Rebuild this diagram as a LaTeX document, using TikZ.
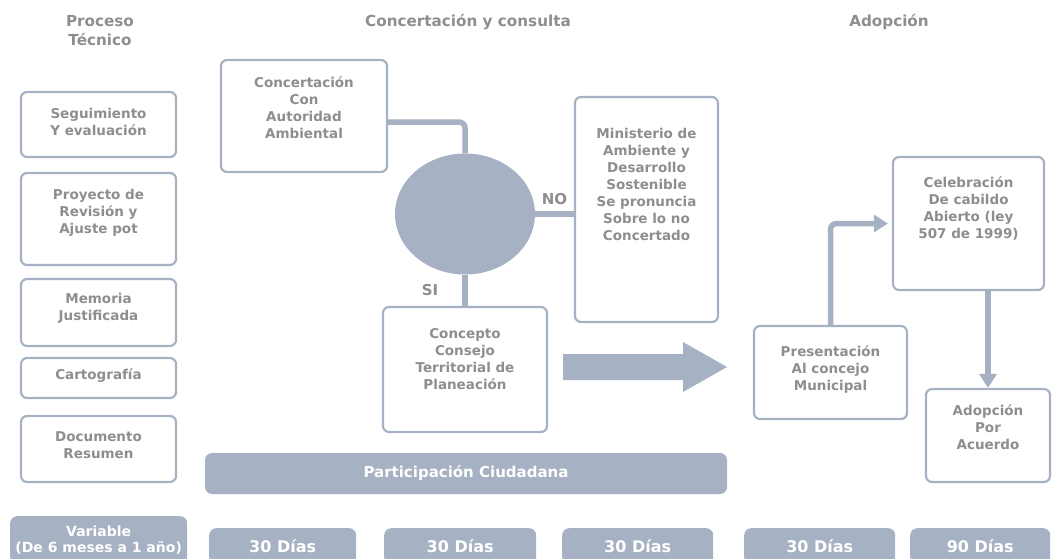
\documentclass[tikz,border=0pt]{standalone}
\usepackage{fontspec}
\setmainfont{DejaVu Sans}
\usepackage{xcolor}
\usepackage{tikz}
\usetikzlibrary{shapes,arrows.meta,positioning}
\definecolor{boxline}{RGB}{166,177,196}
\definecolor{txtgray}{RGB}{142,142,142}
\tikzstyle{box} = [rectangle, draw=boxline, line width=2.2pt, rounded corners=6pt, fill=white, inner sep=0pt]
\tikzstyle{boxtext} = [text=txtgray, font=\bfseries\fontsize{13.5}{17}\selectfont, align=center, inner sep=0pt]
\tikzstyle{header} = [boxtext, font=\bfseries\fontsize{15.2}{19}\selectfont]
\tikzstyle{bar} = [rectangle, fill=boxline, rounded corners=7pt, text=white, align=center,
    font=\bfseries\fontsize{15}{16}\selectfont]
\tikzstyle{daybar} = [bar, anchor=north west, minimum height=36pt, font=\bfseries\fontsize{16}{17}\selectfont]
\tikzstyle{decision} = [ellipse, fill=boxline, minimum width=140pt, minimum height=121pt]
\tikzstyle{line} = [draw=boxline, line width=5.5pt, rounded corners=6pt]
\tikzstyle{arrowline} = [line, -{Triangle[length=14pt,width=17pt]}]
\tikzstyle{tag} = [text=txtgray, font=\bfseries\fontsize{15}{16}\selectfont, inner sep=0pt]

\begin{document}
\begin{tikzpicture}[x=1pt, y=-1pt]
    \path [use as bounding box, clip] (0,0) rectangle (1056,558);
    % Place nodes
    \node [header] (hTec) at (100,31) {Proceso\\Técnico};
    \node [header] (hConc) at (468,22) {Concertación y consulta};
    \node [header] (hAdop) at (889,22) {Adopción};

    \node [box, minimum width=155pt, minimum height=65pt] (segBox) at (98.5,124.5) {};
    \node [boxtext] (segTxt) at ([yshift=3pt]segBox) {Seguimiento\\Y evaluación};
    \node [box, minimum width=155pt, minimum height=92pt] (proyBox) at (98.5,219) {};
    \node [boxtext] (proyTxt) at ([yshift=6pt]proyBox) {Proyecto de\\Revisión y\\Ajuste pot};
    \node [box, minimum width=155pt, minimum height=67pt] (memBox) at (98.5,312.5) {};
    \node [boxtext] (memTxt) at ([yshift=4pt]memBox) {Memoria\\Justificada};
    \node [box, minimum width=155pt, minimum height=40pt] (cartoBox) at (98.5,378) {};
    \node [boxtext] (cartoTxt) at ([yshift=2pt]cartoBox) {Cartografía};
    \node [box, minimum width=155pt, minimum height=66pt] (docBox) at (98.5,449) {};
    \node [boxtext] (docTxt) at ([yshift=4pt]docBox) {Documento\\Resumen};

    \node [box, minimum width=166pt, minimum height=112pt] (concBox) at (304,116) {};
    \node [boxtext] (concTxt) at ([yshift=8pt]concBox) {Concertación\\Con\\Autoridad\\Ambiental};
    \node [decision] (decide) at (465,214) {};
    \node [box, minimum width=143pt, minimum height=225pt] (minBox) at (646.5,209.5) {};
    \node [boxtext] (minTxt) at ([yshift=25pt]minBox) {Ministerio de\\Ambiente y\\Desarrollo\\Sostenible\\Se pronuncia\\Sobre lo no\\Concertado};
    \node [box, minimum width=164pt, minimum height=125pt] (ctpBox) at (465,369.5) {};
    \node [boxtext] (ctpTxt) at ([yshift=10pt]ctpBox) {Concepto\\Consejo\\Territorial de\\Planeación};
    \node [bar, minimum width=522pt, minimum height=41pt] (partBar) at (466,473.5) {Participación Ciudadana};

    \node [box, minimum width=153pt, minimum height=93pt] (presBox) at (830.5,372.5) {};
    \node [boxtext] (presTxt) at ([yshift=3pt]presBox) {Presentación\\Al concejo\\Municipal};
    \node [box, minimum width=151pt, minimum height=133pt] (celBox) at (968.5,223.5) {};
    \node [boxtext] (celTxt) at ([yshift=15pt]celBox) {Celebración\\De cabildo\\Abierto (ley\\507 de 1999)};
    \node [box, minimum width=124pt, minimum height=93pt] (adopBox) at (988,435.5) {};
    \node [boxtext] (adopTxt) at ([yshift=8pt]adopBox) {Adopción\\Por\\Acuerdo};

    \node [daybar, minimum width=177pt, minimum height=48pt, font=\bfseries\fontsize{14}{16}\selectfont] (varDays) at (10,516) {Variable\\(De 6 meses a 1 año)};
    \node [daybar, minimum width=147pt] (daysA) at (209,528) {30 Días};
    \node [daybar, minimum width=152pt] (daysB) at (384,528) {30 Días};
    \node [daybar, minimum width=151pt] (daysC) at (562,528) {30 Días};
    \node [daybar, minimum width=151pt] (daysD) at (744,528) {30 Días};
    \node [daybar, minimum width=140pt] (daysE) at (910,528) {90 Días};

    % big arrow towards the adoption stage
    \fill [boxline] (563,354) -- (683,354) -- (683,342) -- (727,367) -- (683,392)
        -- (683,380) -- (563,380) -- cycle;

    % Draw edges
    \path [line] ([yshift=-6pt]concBox.east) -| (decide.north);
    \path [line] (decide.east) -- node [tag, above=7pt] (noTag) {NO} (decide.east -| minBox.west);
    \path [line] (decide.south) -- node [tag, left=24pt] (siTag) {SI} (ctpBox.north);
    \path [arrowline, shorten >=4pt] (presBox.north) |- (celBox.west);
    \path [arrowline] (adopBox.north |- celBox.south) -- (adopBox.north);
\end{tikzpicture}
\end{document}
